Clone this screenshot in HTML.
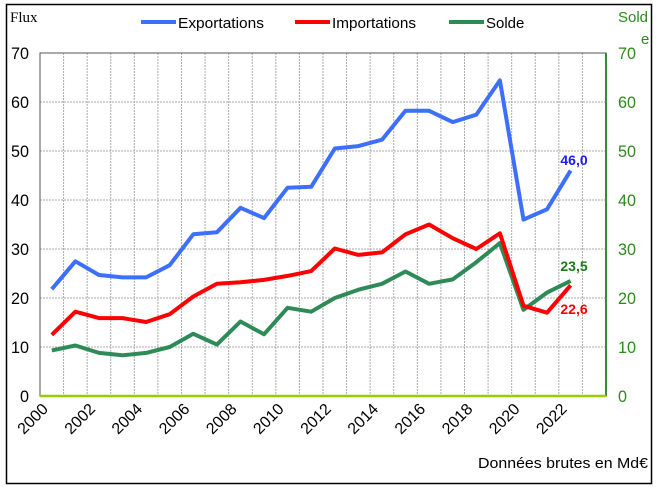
<!DOCTYPE html>
<html><head><meta charset="utf-8"><style>
html,body{margin:0;padding:0;background:#fff}
svg{display:block}
text{font-family:"Liberation Sans",sans-serif}
</style></head><body>
<svg width="665" height="487" viewBox="0 0 665 487" xmlns="http://www.w3.org/2000/svg">
<rect x="6.5" y="4.5" width="645" height="479" fill="#fff" stroke="#000" stroke-width="1.5"/>
<g id="grid" stroke="#aaa" stroke-width="1" stroke-dasharray="2,1"></g>
<rect x="40" y="53" width="566" height="343" fill="none" stroke="#555" stroke-width="1"/>
<line x1="606" y1="53" x2="606" y2="396" stroke="#3a8a3a" stroke-width="2"/>
<line x1="40" y1="396" x2="606" y2="396" stroke="#99cc00" stroke-width="2.5"/>
<g id="ly" font-size="17" fill="#000" text-anchor="end"></g>
<g id="ry" font-size="17" fill="#2a8a1a" text-anchor="start"></g>
<g id="xl" font-size="16" fill="#000"></g>
<text x="10" y="22" font-size="15" style="font-family:'Liberation Serif',serif">Flux</text>
<text x="618" y="22" font-size="15" fill="#2a8a1a">Sold</text>
<text x="641" y="44" font-size="15" fill="#2a8a1a">e</text>
<line x1="141" y1="22" x2="176" y2="22" stroke="#3d6fff" stroke-width="4"/>
<text x="178" y="28" font-size="15" textLength="86" lengthAdjust="spacingAndGlyphs">Exportations</text>
<line x1="295" y1="22" x2="330" y2="22" stroke="#ff0000" stroke-width="4"/>
<text x="332" y="28" font-size="15" textLength="84" lengthAdjust="spacingAndGlyphs">Importations</text>
<line x1="449" y1="22" x2="484" y2="22" stroke="#2e8b57" stroke-width="4"/>
<text x="486" y="28" font-size="15">Solde</text>
<text x="648" y="468" font-size="15" text-anchor="end" textLength="170" lengthAdjust="spacingAndGlyphs">Données brutes en Md€</text>
<polyline id="s" fill="none" stroke="#2e8b57" stroke-width="4" stroke-linejoin="round"/>
<polyline id="i" fill="none" stroke="#ff0000" stroke-width="4" stroke-linejoin="round"/>
<polyline id="e" fill="none" stroke="#3d6fff" stroke-width="4" stroke-linejoin="round"/>
<text x="574" y="165" font-size="14" font-weight="bold" fill="#1a1aff" text-anchor="middle">46,0</text>
<text x="574" y="271" font-size="14" font-weight="bold" fill="#1a7a1a" text-anchor="middle">23,5</text>
<text x="574" y="314" font-size="14" font-weight="bold" fill="#ff0000" text-anchor="middle">22,6</text>
</svg>
<script>
var ns="http://www.w3.org/2000/svg",L=40,W=566/24;
function el(p,t,a,tx){var e=document.createElementNS(ns,t);for(var k in a)e.setAttribute(k,a[k]);if(tx!=null)e.textContent=tx;document.getElementById(p).appendChild(e);}
for(var i=1;i<24;i++)el("grid","line",{x1:L+i*W,y1:53,x2:L+i*W,y2:396});
for(var v=10;v<70;v+=10)el("grid","line",{x1:40,y1:396-v*4.9,x2:606,y2:396-v*4.9});
for(var v=0;v<=70;v+=10){el("ly","text",{x:29,y:396-v*4.9+6,textLength:v?18:9,lengthAdjust:"spacingAndGlyphs"},v);el("ry","text",{x:618,y:396-v*4.9+6,textLength:v?18:9,lengthAdjust:"spacingAndGlyphs"},v);}
for(var y=2000;y<=2022;y+=2){var x=L+(y-2000)*W+9,yy=410;el("xl","text",{x:x,y:yy,"text-anchor":"end",transform:"rotate(-45 "+x+" "+yy+")"},y);}
function pl(id,d){document.getElementById(id).setAttribute("points",d.map(function(v,i){return (L+(i+0.5)*W).toFixed(1)+","+(396-v*4.9).toFixed(1)}).join(" "));}
pl("e",[21.8,27.5,24.7,24.2,24.2,26.7,33.0,33.4,38.4,36.3,42.5,42.7,50.5,51.0,52.3,58.2,58.2,55.9,57.4,64.4,36.0,38.1,46.0]);
pl("i",[12.5,17.2,15.9,15.9,15.1,16.7,20.3,22.9,23.2,23.7,24.5,25.5,30.1,28.8,29.3,33.0,35.0,32.2,30.0,33.2,18.4,17.0,22.6]);
pl("s",[9.3,10.3,8.8,8.3,8.8,10.0,12.7,10.5,15.2,12.6,18.0,17.2,20.0,21.7,22.9,25.4,22.9,23.8,27.3,31.2,17.6,21.1,23.5]);
</script>
</body></html>
